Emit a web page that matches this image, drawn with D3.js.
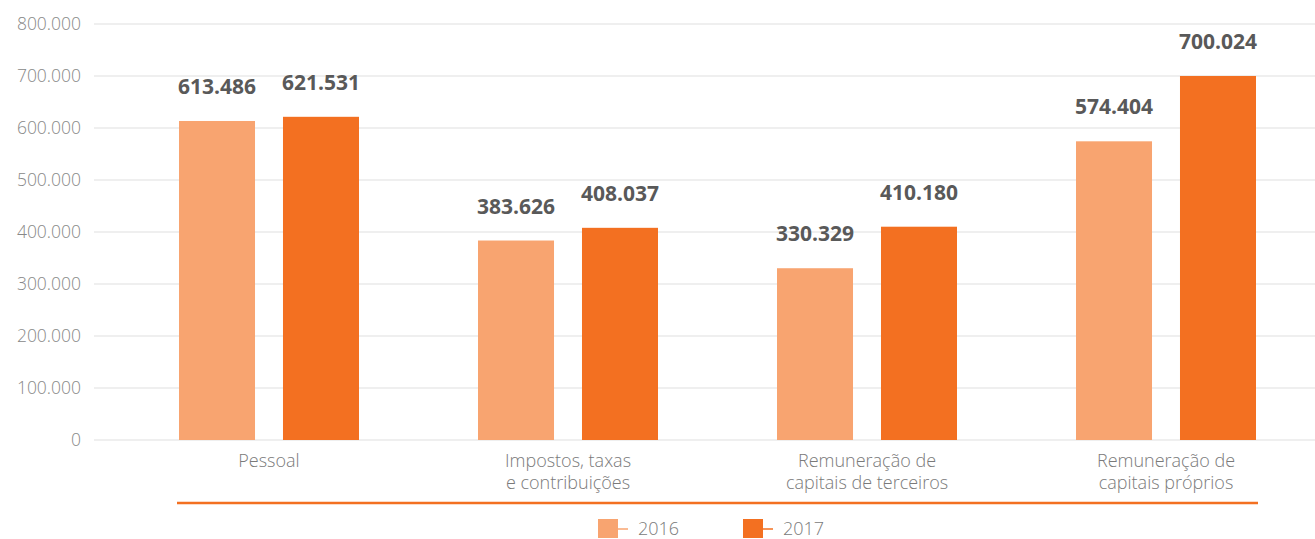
<!DOCTYPE html>
<meta charset="utf-8">
<script src="https://d3js.org/d3.v7.min.js"></script>
<style>
  body { margin: 0; background: #fff; }
  text { font-family: "Open Sans", sans-serif; }
</style>
<div id="my_dataviz"></div>
<script>
// categories (multi-line labels)
var categories = [
  ["Pessoal"],
  ["Impostos, taxas", "e contribuições"],
  ["Remuneração de", "capitais de terceiros"],
  ["Remuneração de", "capitais próprios"]
];
var years = ["2016", "2017"];
var values2016 = [613486, 383626, 330329, 574404];
var values2017 = [621531, 408037, 410180, 700024];
var yTicks = [0, 100000, 200000, 300000, 400000, 500000, 600000, 700000, 800000];

var colors = { "2016": "#f8a470", "2017": "#f37021" };
var fmt = function (v) { return d3.format(",.0f")(v).replace(/,/g, "."); };
var fmtK = function (v) { return v === 0 ? "0" : fmt(v / 1000) + ".000"; };
var fmtVal = function (v) { return d3.format(",")(v).replace(/,/g, "."); };

var width = 1315, height = 539;

var svg = d3.select("#my_dataviz")
  .append("svg")
  .attr("width", width)
  .attr("height", height);

var x0 = d3.scaleBand()
  .domain(d3.range(categories.length))
  .range([119.5, 1315.5])
  .paddingInner(0.398)
  .paddingOuter(0.199);

var x1 = d3.scaleBand()
  .domain(years)
  .range([0, x0.bandwidth()])
  .paddingInner(0.269);

var y = d3.scaleLinear()
  .domain([0, 800000])
  .range([440, 24]);

// gridlines
svg.append("g")
  .selectAll("line")
  .data(yTicks)
  .enter().append("line")
  .attr("x1", 94)
  .attr("x2", width)
  .attr("y1", function (d) { return y(d); })
  .attr("y2", function (d) { return y(d); })
  .attr("stroke", "#efefef")
  .attr("stroke-width", 2);

// y axis labels
svg.append("g")
  .selectAll("text")
  .data(yTicks)
  .enter().append("text")
  .attr("x", 81)
  .attr("y", function (d) { return y(d); })
  .attr("dy", "0.35em")
  .attr("text-anchor", "end")
  .attr("font-size", 17.5)
  .attr("font-weight", 300)
  .attr("fill", "#888")
  .text(fmtK);

// bars
var rows = categories.map(function (c, i) {
  return [
    { i: i, year: "2016", value: values2016[i] },
    { i: i, year: "2017", value: values2017[i] }
  ];
});

var groups = svg.append("g")
  .selectAll("g")
  .data(rows)
  .enter().append("g")
  .attr("transform", function (d, i) { return "translate(" + x0(i) + ",0)"; });

groups.selectAll("rect")
  .data(function (d) { return d; })
  .enter().append("rect")
  .attr("x", function (d) { return x1(d.year); })
  .attr("width", x1.bandwidth())
  .attr("y", function (d) { return y(d.value); })
  .attr("height", function (d) { return y(0) - y(d.value); })
  .attr("fill", function (d) { return colors[d.year]; });

groups.selectAll("text.val")
  .data(function (d) { return d; })
  .enter().append("text")
  .attr("class", "val")
  .attr("x", function (d) { return x1(d.year) + x1.bandwidth() / 2; })
  .attr("y", function (d) { return y(d.value) - 27; })
  .attr("text-anchor", "middle")
  .attr("font-size", 21)
  .attr("font-weight", "bold")
  .attr("fill", "#595959")
  .text(function (d) { return fmtVal(d.value); });

// category labels
var catLabels = svg.append("g")
  .selectAll("text")
  .data(categories)
  .enter().append("text")
  .attr("x", function (d, i) { return x0(i) + x0.bandwidth() / 2; })
  .attr("y", 467)
  .attr("text-anchor", "middle")
  .attr("font-size", 18)
  .attr("font-weight", 300)
  .attr("fill", "#7a7a7a");

catLabels.selectAll("tspan")
  .data(function (d) { return d; })
  .enter().append("tspan")
  .attr("x", function () { return this.parentNode.getAttribute("x"); })
  .attr("dy", function (d, j) { return j === 0 ? 0 : 22; })
  .text(function (d) { return d; });

// orange separator line
svg.append("line")
  .attr("x1", 177)
  .attr("x2", 1258)
  .attr("y1", 503)
  .attr("y2", 503)
  .attr("stroke", "#f37021")
  .attr("stroke-width", 2.5);

// legend
var legendX = [598, 743];
var legend = svg.append("g")
  .selectAll("g")
  .data(years)
  .enter().append("g")
  .attr("transform", function (d, i) { return "translate(" + legendX[i] + ",519)"; });

legend.append("rect")
  .attr("width", 20)
  .attr("height", 19)
  .attr("fill", function (d) { return colors[d]; });

legend.append("line")
  .attr("x1", 20)
  .attr("x2", 30)
  .attr("y1", 10)
  .attr("y2", 10)
  .attr("stroke", function (d) { return colors[d]; })
  .attr("stroke-width", 1.5);

legend.append("text")
  .attr("x", 40)
  .attr("y", 16)
  .attr("font-size", 18)
  .attr("font-weight", 300)
  .attr("fill", "#7a7a7a")
  .text(function (d) { return d; });
</script>
